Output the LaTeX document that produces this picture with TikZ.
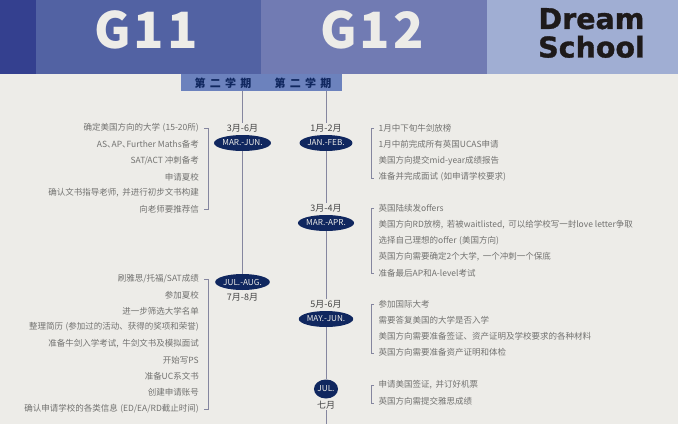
\documentclass[tikz,border=0pt]{standalone}
\usepackage{fontspec}
\usetikzlibrary{shapes.geometric}
\setmainfont{Noto Sans CJK SC}
\newfontfamily\gradefont[LetterSpace=6]{Noto Sans CJK SC}
\newfontfamily\termfont[LetterSpace=38]{Noto Sans CJK SC}
\newfontfamily\brandfont[BoldFeatures={FakeBold=1.2}]{DejaVu Sans}
\newcommand{\cnsep}{,\hspace{3.5pt}}
\newcommand{\cnopen}{\hspace{2.5pt}(}
\definecolor{paper}{HTML}{EDECE8}
\definecolor{stripA}{HTML}{34408F}
\definecolor{stripB}{HTML}{5262A3}
\definecolor{stripC}{HTML}{717BB3}
\definecolor{stripD}{HTML}{A0AED3}
\definecolor{termbar}{HTML}{6C82BD}
\definecolor{navy}{HTML}{10275F}
\definecolor{rail}{HTML}{85869F}
\definecolor{itemgray}{HTML}{727270}
\definecolor{monthgray}{HTML}{454545}
\definecolor{brandink}{HTML}{1E1A1A}
\tikzset{
  grade/.style={text=paper, font=\gradefont\fontsize{50}{50}\selectfont\bfseries, inner sep=0},
  term/.style={text=navy, font=\termfont\fontsize{11}{11}\selectfont\bfseries, inner sep=0},
  season/.style={ellipse, fill=navy, text=paper, minimum width=46, minimum height=16, inner sep=0, font=\fontsize{8.2}{8.2}\selectfont},
  month/.style={text=monthgray, font=\fontsize{9}{9}\selectfont, inner sep=1},
  itemL/.style={text=itemgray, anchor=east, font=\fontsize{8.5}{8.5}\selectfont, inner sep=0},
  itemR/.style={text=itemgray, anchor=west, font=\fontsize{8.5}{8.5}\selectfont, inner sep=0},
  railline/.style={color=rail, line width=0.7},
  bracket/.style={color=rail, line width=0.7}
}
\begin{document}
\begin{tikzpicture}[x=1pt, y=-1pt]
\fill[color=paper] (0,0) rectangle (678,424);
\useasboundingbox (0,0) rectangle (678,424);
% header bands
\fill[color=stripA] (0,0) rectangle (36,73.5);
\fill[color=stripB] (36,0) rectangle (261,73.5);
\fill[color=stripC] (261,0) rectangle (487,73.5);
\fill[color=stripD] (487,0) rectangle (678,73.5);
\fill[color=termbar] (181,73.5) rectangle (342,91);
\node[grade] (g11) at (146,30) {G11};
\node[grade] (g12) at (372,30) {G12};
\node[text=brandink, align=center, inner sep=0, font=\brandfont\fontsize{28.5}{28.5}\selectfont\bfseries] (dream) at (591.5,33) {Dream\\School};
\node[term] (termL) at (223,83) {第二学期};
\node[term] (termR) at (303,83) {第二学期};
% G11 timeline
\coordinate (topL) at (242.5,91);
\node[month] (m36) at (242.5,128) {3月-6月};
\node[season] (marjun) at (242.5,143) {MAR.-JUN.};
\node[season] (julaug) at (242.5,282) {JUL.-AUG.};
\node[month] (m78) at (242.5,297) {7月-8月};
\draw[railline] (topL) -- (m36);
\draw[railline] (marjun) -- (julaug);
% G12 timeline
\coordinate (topR) at (326,91);
\coordinate (endR) at (326,424);
\node[month] (m12) at (326,128) {1月-2月};
\node[season] (janfeb) at (326,143) {JAN.-FEB.};
\node[month] (m34) at (326,208) {3月-4月};
\node[season] (marapr) at (326,223) {MAR.-APR.};
\node[month] (m56) at (326,304) {5月-6月};
\node[season] (mayjun) at (326,319) {MAY.-JUN.};
\node[season, minimum width=19, minimum height=19] (jul) at (326,389) {JUL.};
\node[month] (m7) at (326,405) {七月};
\draw[railline] (topR) -- (m12);
\draw[railline] (janfeb) -- (m34);
\draw[railline] (marapr) -- (m56);
\draw[railline] (mayjun) -- (jul);
\draw[railline] (m7) -- (endR);
% left lists
\node[itemL] (a1) at (199,128) {确定美国方向的大学\cnopen 15-20所)};
\node[itemL] (a2) at (199,144.7) {AS、\hspace{-4pt}AP、\hspace{-4pt}Further Maths备考};
\node[itemL] (a3) at (199,160.7) {SAT/ACT 冲刺备考};
\node[itemL] (a4) at (199,177) {申请夏校};
\node[itemL] (a5) at (199,193) {确认文书指导老师\cnsep 并进行初步文书构建};
\node[itemL] (a6) at (199,209) {向老师要推荐信};
\node[itemL] (b1) at (199,278.3) {刷雅思/托福/SAT成绩};
\node[itemL] (b2) at (199,295) {参加夏校};
\node[itemL] (b3) at (199,311) {进一步筛选大学名单};
\node[itemL] (b4) at (199,327) {整理简历\cnopen 参加过的活动、获得的奖项和荣誉)};
\node[itemL] (b5) at (199,343.7) {准备牛剑入学考试\cnsep 牛剑文书及模拟面试};
\node[itemL] (b6) at (199,360) {开始写PS};
\node[itemL] (b7) at (199,376) {准备UC系文书};
\node[itemL] (b8) at (199,392) {创建申请账号};
\node[itemL] (b9) at (199,408.3) {确认申请学校的各类信息\cnopen ED/EA/RD截止时间)};
% right lists
\node[itemR] (c1) at (378.5,128.3) {1月中下旬牛剑放榜};
\node[itemR] (c2) at (378.5,144.7) {1月中前完成所有英国UCAS申请};
\node[itemR] (c3) at (378.5,161) {美国方向提交mid-year成绩报告};
\node[itemR] (c4) at (378.5,177) {准备并完成面试\cnopen 如申请学校要求)};
\node[itemR] (d1) at (378.5,208.3) {英国陆续发offers};
\node[itemR] (d2) at (378.5,224.5) {美国方向RD放榜\cnsep 若被waitlisted\cnsep 可以给学校写一封love letter争取};
\node[itemR] (d3) at (378.5,241) {选择自己理想的offer\cnopen 美国方向)};
\node[itemR] (d4) at (378.5,257) {英国方向需要确定2个大学\cnsep 一个冲刺一个保底};
\node[itemR] (d5) at (378.5,273) {准备最后AP和A-level考试};
\node[itemR] (e1) at (378.5,304) {参加国际大考};
\node[itemR] (e2) at (378.5,320) {需要答复美国的大学是否入学};
\node[itemR] (e3) at (378.5,336.7) {美国方向需要准备签证、资产证明及学校要求的各种材料};
\node[itemR] (e4) at (378.5,352.7) {英国方向需要准备资产证明和体检};
\node[itemR] (f1) at (378.5,385) {申请美国签证\cnsep 并订好机票};
\node[itemR] (f2) at (378.5,401) {英国方向需提交雅思成绩};
% brackets
\coordinate (brAa) at (204,128);
\coordinate (brAb) at (204,209);
\coordinate (brBa) at (204,279);
\coordinate (brBb) at (204,409);
\coordinate (brCa) at (374,128.5);
\coordinate (brCb) at (374,178);
\coordinate (brDa) at (374,208.5);
\coordinate (brDb) at (374,273);
\coordinate (brEa) at (374,304);
\coordinate (brEb) at (374,353.5);
\coordinate (brFa) at (374,385);
\coordinate (brFb) at (374,403);
\draw[bracket] (brAa) -- ++(4,0) |- (brAb);
\draw[bracket] (brBa) -- ++(4,0) |- (brBb);
\draw[bracket] (brCa) -- ++(-3,0) |- (brCb);
\draw[bracket] (brDa) -- ++(-3,0) |- (brDb);
\draw[bracket] (brEa) -- ++(-3,0) |- (brEb);
\draw[bracket] (brFa) -- ++(-3,0) |- (brFb);
\end{tikzpicture}
\end{document}
